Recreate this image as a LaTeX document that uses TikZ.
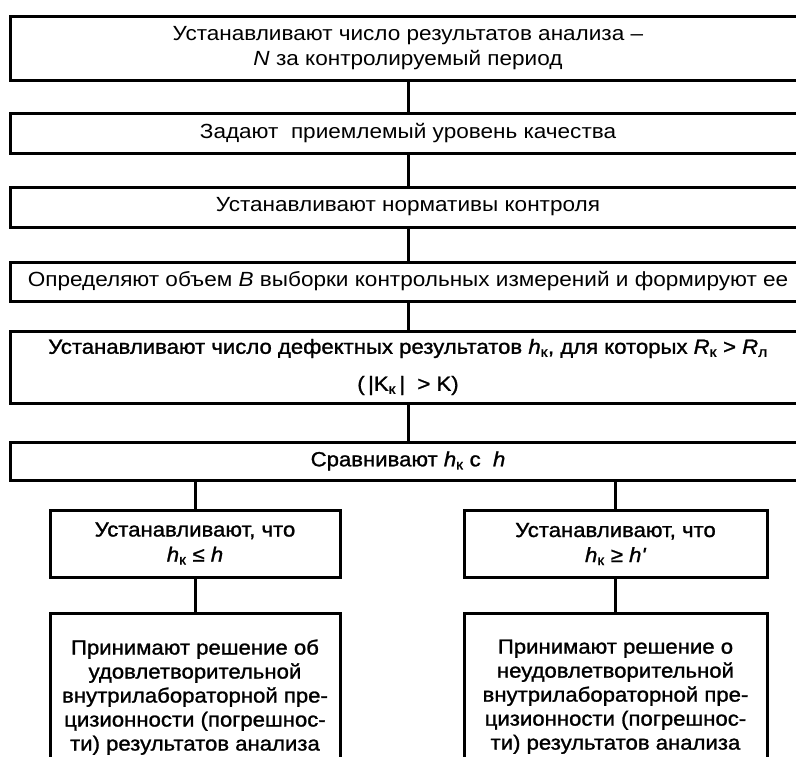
\documentclass[tikz,border=0pt]{standalone}
\usepackage{fontspec}
\setmainfont{Liberation Sans}[FakeStretch=1.1]
\newfontfamily\heavyfont{Liberation Sans}[FakeStretch=1.08, FakeBold=1.2]
\usetikzlibrary{positioning}

\newcommand{\ksub}{\textsubscript{к}}

\begin{document}
\begin{tikzpicture}[x=1pt, y=-1pt,
      stepbox/.style={draw, line width=3pt, align=center, inner sep=0pt,
         font=\fontsize{20.5}{25}\selectfont},
      widebox/.style={stepbox, minimum width=796pt},
      halfbox/.style={stepbox, minimum width=290pt, minimum height=67pt,
         font=\fontsize{20.5}{25}\heavyfont},
      endbox/.style={stepbox, minimum width=290pt, inner ysep=26pt, anchor=north,
         font=\fontsize{20.5}{24}\heavyfont},
      link/.style={line width=3pt}]
      \useasboundingbox (0,0) rectangle (796,756);
      \clip (0,0) rectangle (796,756);
      % main chain
      \node[widebox, minimum height=64pt] (number) at (408,48)
         {Устанавливают число результатов анализа –\\\textit{N} за контролируемый период};
      \node[widebox, minimum height=40pt] (level) at (408,133)
         {Задают \ приемлемый уровень качества};
      \node[widebox, minimum height=40pt] (norms) at (408,207)
         {Устанавливают нормативы контроля};
      \node[widebox, minimum height=39pt] (sample) at (408,281.5)
         {Определяют объем \textit{B} выборки контрольных измерений и формируют ее};
      \node[widebox, minimum height=72pt, font=\fontsize{20.5}{25}\heavyfont] (defects) at (408,367)
         {Устанавливают число дефектных результатов \textit{h}\ksub, для которых \textit{R}\ksub{} > \textit{R}\textsubscript{л}\\[12pt]
          (\,|K\ksub\,|\ \ > K)};
      \node[widebox, minimum height=38pt, font=\fontsize{20.5}{25}\heavyfont] (compare) at (408,461)
         {Сравнивают \textit{h}\ksub{} с \ \textit{h}};
      % two branches
      \node[halfbox] (good) at (195,543.5)
         {Устанавливают, что\\\textit{h}\ksub{} ≤ \textit{h}};
      \node[halfbox, minimum width=303pt] (bad) at (615.5,544)
         {Устанавливают, что\\\textit{h}\ksub{} ≥ \textit{h\textquotesingle}};
      % decisions, open at the bottom
      \node[endbox] (accept) at (195,612)
         {Принимают решение об\\удовлетворительной\\внутрилабораторной пре-\\цизионности (погрешнос-\\ти) результатов анализа};
      \node[endbox, minimum width=303pt] (reject) at (615.5,612)
         {Принимают решение о\\неудовлетворительной\\внутрилабораторной пре-\\цизионности (погрешнос-\\ти) результатов анализа};
      % connectors
      \draw[link] (number) -- (level);
      \draw[link] (level) -- (norms);
      \draw[link] (norms) -- (sample);
      \draw[link] (sample) -- (defects);
      \draw[link] (defects) -- (compare);
      \draw[link] (good.north) -- (good.north |- compare.south);
      \draw[link] (bad.north) -- (bad.north |- compare.south);
      \draw[link] (good) -- (accept);
      \draw[link] (bad) -- (reject);
   \end{tikzpicture}
\end{document}
